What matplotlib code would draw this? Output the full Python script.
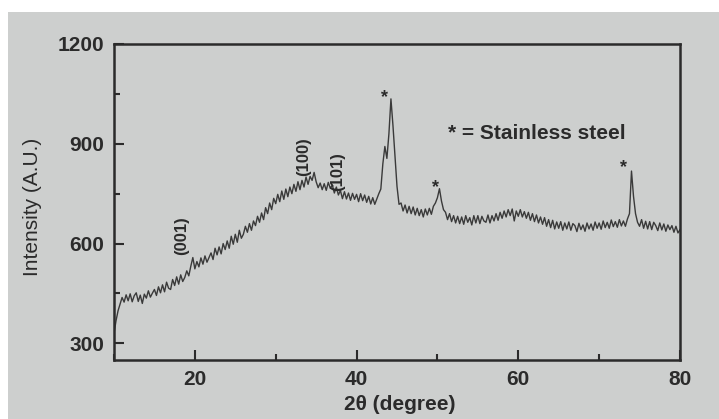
import numpy as np
import matplotlib
matplotlib.use("Agg")
import matplotlib.pyplot as plt
from matplotlib.patches import Rectangle
from matplotlib.ticker import MultipleLocator

# XRD pattern at 0.25 degree steps (four values per degree)
two_theta_start = 10.0
two_theta_step = 0.25

intensity_10_30 = [
    330, 368, 398, 418,   # 10
    438, 424, 446, 428,   # 11
    449, 425, 443, 452,   # 12
    426, 445, 420, 448,   # 13
    436, 458, 439, 451,   # 14
    462, 444, 470, 452,   # 15
    476, 455, 484, 466,   # 16
    462, 492, 474, 500,   # 17
    478, 506, 486, 498,   # 18
    518, 503, 532, 558,   # 19
    524, 546, 530, 557,   # 20
    538, 563, 544, 558,   # 21
    572, 552, 586, 566,   # 22
    590, 569, 600, 582,   # 23
    608, 586, 622, 598,   # 24
    628, 604, 640, 616,   # 25
    628, 652, 634, 660,   # 26
    640, 668, 654, 682,   # 27
    664, 692, 672, 708,   # 28
    690, 722, 702, 736,   # 29
]
intensity_30_50 = [
    720, 748, 726, 758,   # 30
    733, 764, 741, 770,   # 31
    750, 778, 757, 786,   # 32
    762, 790, 770, 800,   # 33
    778, 802, 790, 814,   # 34
    786, 768, 782, 762,   # 35
    780, 760, 784, 766,   # 36
    776, 752, 770, 746,   # 37
    760, 735, 756, 734,   # 38
    752, 730, 751, 733,   # 39
    748, 726, 750, 729,   # 40
    746, 724, 742, 719,   # 41
    738, 718, 734, 750,   # 42
    764, 840, 892, 856,   # 43
    930, 1035, 955, 862,  # 44
    772, 718, 722, 698,   # 45
    716, 692, 712, 690,   # 46
    710, 686, 706, 684,   # 47
    702, 680, 704, 686,   # 48
    706, 688, 712, 722,   # 49
]
intensity_50_80 = [
    738, 765, 728, 702,   # 50
    694, 672, 690, 666,   # 51
    684, 662, 682, 660,   # 52
    680, 658, 684, 664,   # 53
    678, 656, 684, 662,   # 54
    684, 660, 682, 668,   # 55
    664, 686, 662, 684,   # 56
    668, 690, 670, 694,   # 57
    676, 698, 680, 702,   # 58
    684, 704, 668, 698,   # 59
    682, 702, 680, 696,   # 60
    676, 694, 670, 690,   # 61
    666, 686, 662, 680,   # 62
    658, 678, 652, 672,   # 63
    648, 670, 644, 665,   # 64
    646, 666, 640, 662,   # 65
    644, 665, 640, 660,   # 66
    654, 636, 661, 642,   # 67
    656, 637, 662, 644,   # 68
    659, 640, 665, 646,   # 69
    662, 643, 668, 648,   # 70
    664, 646, 671, 651,   # 71
    666, 649, 672, 653,   # 72
    668, 652, 674, 690,   # 73
    818, 742, 690, 664,   # 74
    652, 672, 646, 667,   # 75
    644, 666, 642, 664,   # 76
    654, 639, 662, 641,   # 77
    659, 637, 656, 642,   # 78
    654, 634, 652, 632,   # 79
    642,                  # 80
]

# plane labels and steel markers
plane_labels = ["(001)", "(100)", "(101)"]
plane_x = [18.4, 33.4, 37.7]
plane_y = [624, 860, 818]
steel_x = [43.5, 49.8, 73.0]
steel_y = [1040, 767, 827]

intensity = np.array(intensity_10_30 + intensity_30_50 + intensity_50_80)
two_theta = two_theta_start + two_theta_step * np.arange(len(intensity))

paper = "#cdcfce"
ink = "#2b2b2b"
plt.rcParams['font.family'] = ['Liberation Sans', 'DejaVu Sans']

fig = plt.figure(figsize=(7.19, 4.19), dpi=100, facecolor=paper)
# white scanner margin at top and left
fig.add_artist(Rectangle((0, 1 - 12 / 419), 1, 12 / 419, transform=fig.transFigure,
                         facecolor="white", edgecolor="none", zorder=0))
fig.add_artist(Rectangle((0, 0), 8 / 719, 1, transform=fig.transFigure,
                         facecolor="white", edgecolor="none", zorder=0))

ax = fig.add_axes([114 / 719, 1 - 360 / 419, 566 / 719, 316 / 419])
ax.set_facecolor(paper)

ax.plot(two_theta, intensity, color="#3a3a3a", lw=1.0)

ax.set_xlim(10, 80)
ax.set_ylim(250, 1200)
ax.xaxis.set_major_locator(MultipleLocator(20))
ax.xaxis.set_minor_locator(MultipleLocator(10))
ax.set_yticks([300, 600, 900, 1200])
ax.yaxis.set_minor_locator(MultipleLocator(150))
ax.tick_params(which="both", direction="in", width=1.5, colors=ink)
ax.tick_params(which="major", length=7)
ax.tick_params(which="minor", length=4)
ax.tick_params(axis="y", pad=7)
ax.tick_params(axis="x", pad=7)
for lab in ax.get_xticklabels() + ax.get_yticklabels():
    lab.set_fontsize(15)
    lab.set_fontweight("bold")
for sp in ax.spines.values():
    sp.set_linewidth(1.8)
    sp.set_color(ink)

ax.set_ylabel("Intensity (A.U.)", fontsize=15, color=ink)
ax.yaxis.set_label_coords(-0.127, 0.484)
ax.set_xlabel("2\u03b8 (degree)", fontsize=15, fontweight="bold", color=ink)
ax.xaxis.set_label_coords(0.504, -0.112)

for lab, x, y in zip(plane_labels, plane_x, plane_y):
    ax.text(x, y, lab, rotation=90, ha="center", va="center",
            fontsize=12, fontweight="bold", color=ink)
for x, y in zip(steel_x, steel_y):
    ax.text(x, y, "*", ha="center", va="center", fontsize=13,
            fontweight="bold", color=ink)
ax.text(51.3, 931, "* = Stainless steel", ha="left", va="center",
        fontsize=15, fontweight="bold", color=ink)

fig.savefig("out.png", dpi=100, facecolor=paper)
